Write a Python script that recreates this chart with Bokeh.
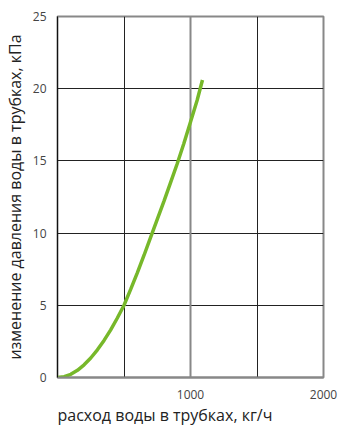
from bokeh.plotting import figure
from bokeh.models import FixedTicker, Grid, Range1d, Title
from bokeh.embed import file_html
from bokeh.resources import INLINE

flow = [0, 50, 100, 150, 200, 250, 300, 350, 400, 450, 500, 550, 600, 650,
        700, 750, 800, 850, 900, 950, 1000, 1050, 1090]
dp = [0.0, 0.06, 0.22, 0.5, 0.88, 1.35, 1.92, 2.57, 3.3, 4.12, 5.0, 6.1, 7.25, 8.45,
      9.7, 10.95, 12.2, 13.5, 14.8, 16.2, 17.7, 19.2, 20.6]

x_ticks = [500, 1000, 1500, 2000]
x_labels = {500: "", 1000: "1000", 1500: "", 2000: "2000"}
y_ticks = [0, 5, 10, 15, 20, 25]

p = figure(frame_width=266, frame_height=361, output_backend="svg",
           toolbar_location=None, min_border_left=40, min_border_right=20,
           min_border_top=16, min_border_bottom=4,
           x_range=Range1d(0, 2000), y_range=Range1d(0, 25))
p.background_fill_color = "white"
p.outline_line_color = "#888888"
p.outline_line_width = 2

p.xaxis.ticker = FixedTicker(ticks=x_ticks)
p.xaxis.major_label_overrides = x_labels
p.yaxis.ticker = FixedTicker(ticks=y_ticks)
for ax in (p.xaxis, p.yaxis):
    ax.major_tick_line_color = None
    ax.minor_tick_line_color = None
    ax.major_label_text_font = "Open Sans"
    ax.major_label_text_font_size = "12px"
    ax.major_label_text_color = "#444444"
    ax.axis_label_text_font = "Open Sans"
    ax.axis_label_text_font_size = "16px"
    ax.axis_label_text_font_style = "normal"
    ax.axis_label_text_color = "#222222"
p.xaxis.axis_line_color = "#888888"
p.xaxis.axis_line_width = 2
p.yaxis.axis_line_color = "#111111"
p.yaxis.axis_line_width = 1
p.xaxis.major_label_standoff = 6
p.yaxis.major_label_standoff = 5
p.yaxis.axis_label = "изменение давления воды в трубках, кПа"
p.yaxis.axis_label_standoff = 4

p.xgrid.ticker = FixedTicker(ticks=[500, 1500, 2000])
p.ygrid.ticker = FixedTicker(ticks=[5, 10, 15, 20])
p.xgrid.grid_line_color = "#222222"
p.ygrid.grid_line_color = "#222222"
p.add_layout(Grid(dimension=0, ticker=FixedTicker(ticks=[1000]),
                  grid_line_color="#888888", grid_line_width=2))

t = Title(text="расход воды в трубках, кг/ч", align="left",
          text_font="Open Sans", text_font_size="16px",
          text_font_style="normal", text_color="#222222", standoff=0)
p.add_layout(t, "below")

p.line(flow, dp, line_color="#77b82a", line_width=3.5)

open("out.html", "w").write(file_html(p, INLINE))
